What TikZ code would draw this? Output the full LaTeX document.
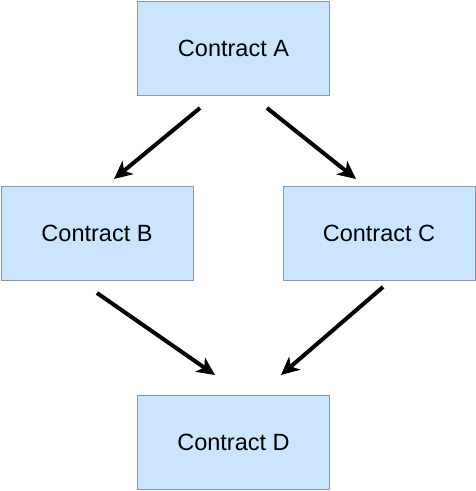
\documentclass[tikz,border=0pt]{standalone}
\usepackage{fontspec}
\setmainfont{Liberation Sans}
\usetikzlibrary{arrows.meta}
\definecolor{boxfill}{HTML}{CCE5FF}
\definecolor{boxline}{HTML}{8899AA}
\begin{document}
\begin{tikzpicture}[x=1pt,y=-1pt,
  cbox/.style={draw=boxline,fill=boxfill,line width=1pt,minimum width=192pt,minimum height=94pt,inner sep=0pt,font=\fontsize{23.5}{28}\selectfont},
  arr/.style={line width=4pt,-{Stealth[length=18pt,width=17pt,inset=5pt]}}]
\useasboundingbox (0,0) rectangle (476,491);
\node[cbox] (A) at (233.5,48) {Contract A};
\node[cbox] (B) at (97,233) {Contract B};
\node[cbox] (C) at (379,233) {Contract C};
\node[cbox] (D) at (233.5,442.5) {Contract D};
\coordinate (a1) at (200,108);
\coordinate (b1) at (114,179);
\coordinate (a2) at (267,108);
\coordinate (c1) at (356,179);
\coordinate (b2) at (97,293);
\coordinate (d1) at (215,375);
\coordinate (c2) at (383,287);
\coordinate (d2) at (281,375);
\draw[arr] (a1) -- (b1);
\draw[arr] (a2) -- (c1);
\draw[arr] (b2) -- (d1);
\draw[arr] (c2) -- (d2);
\end{tikzpicture}
\end{document}
